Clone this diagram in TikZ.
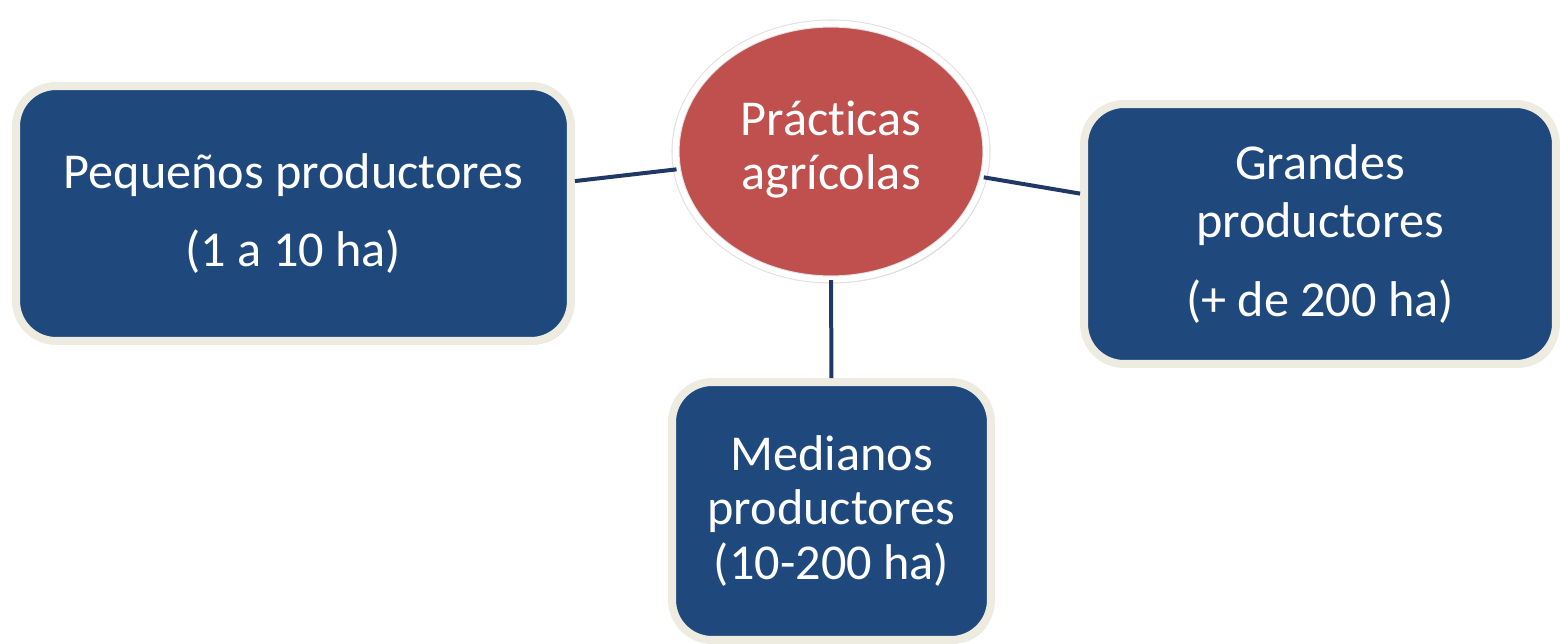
\documentclass[tikz,border=0pt]{standalone}
\usepackage{fontspec}
\setmainfont{Carlito}[Ligatures=NoCommon]
\usetikzlibrary{positioning,shapes.geometric,shadows}

\definecolor{boxblue}{HTML}{1F497D}
\definecolor{boxcream}{HTML}{EEECE1}
\definecolor{hubred}{HTML}{C0504D}
\definecolor{linkblue}{HTML}{1F3864}

\begin{document}
\begin{tikzpicture}[x=0.02cm,y=-0.02cm,
        box/.style={rectangle,rounded corners=0.8cm,fill=boxblue,draw=boxcream,
            line width=0.16cm,text=white,align=center,inner sep=0pt,
            font=\fontsize{28.6}{31}\selectfont,
            drop shadow={shadow xshift=1.5pt,shadow yshift=-2pt,opacity=.3}},
        hub/.style={ellipse,fill=hubred,draw=black!12,line width=0.6pt,
            double=white,double distance=0.12cm,text=white,
            inner sep=0pt,minimum width=6.22cm,minimum height=5.12cm,
            font=\fontsize{28.6}{31}\selectfont,
            drop shadow={shadow xshift=1.5pt,shadow yshift=-2pt,opacity=.35}},
        link/.style={draw=linkblue,line width=0.08cm}]

                \useasboundingbox (0,0) rectangle (1560,643);

                \node[hub] (prac) at (831,151.5) {\raisebox{9.5pt}{\begin{tabular}{@{}c@{}}Prácticas\\agrícolas\end{tabular}}};

                \node[box,minimum width=11.1cm,minimum height=5.1cm] (peq) at (293.5,213.5)
                    {Pequeños productores\\[13pt](1 a 10 ha)};

                \node[box,minimum width=6.38cm,minimum height=5.16cm] (med) at (831.5,511)
                    {Medianos\\productores\\(10-200 ha)};

                \node[box,minimum width=9.44cm,minimum height=5.2cm] (gra) at (1320,234)
                    {Grandes\\[2.5pt]productores\\[14pt](+ de 200 ha)};

                

                \foreach \to in {peq, med, gra}
                    {
                    \path[link] (prac) -- (\to);
                    }

            \end{tikzpicture}
\end{document}
